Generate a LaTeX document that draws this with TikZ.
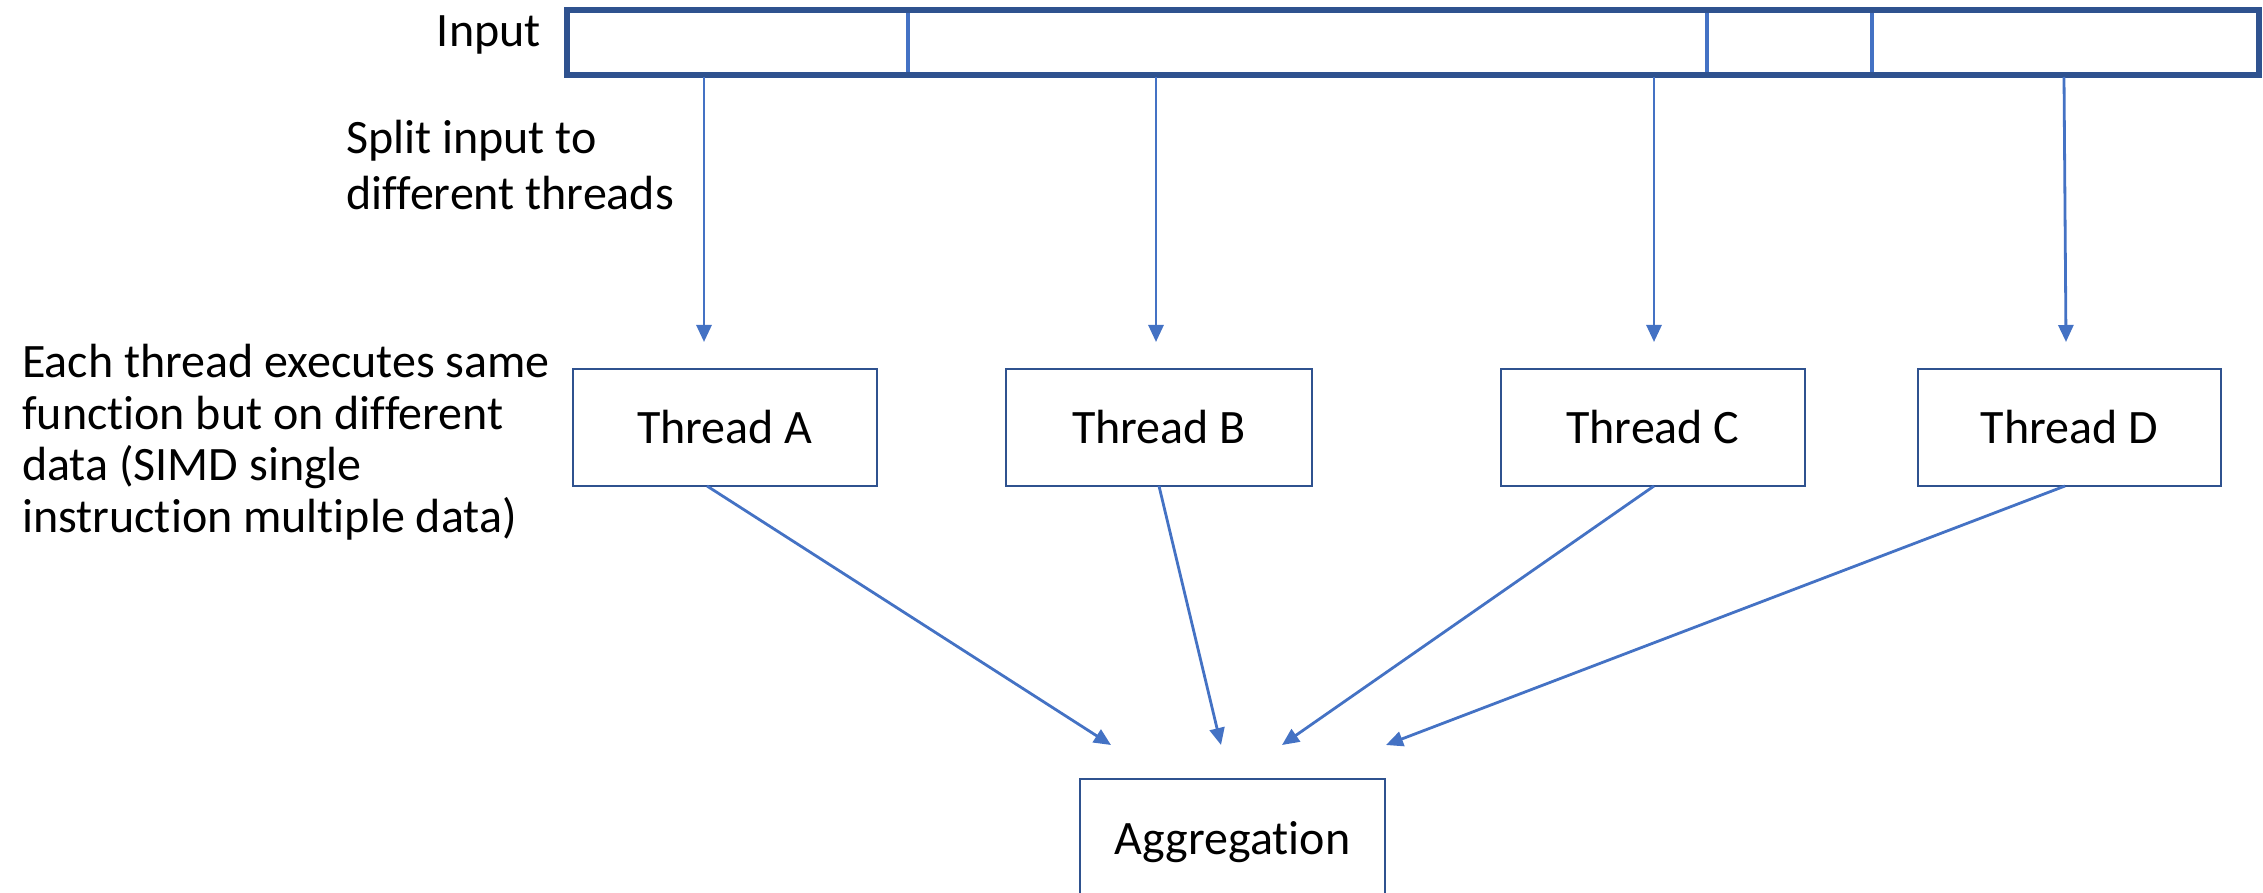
\documentclass[tikz,border=0pt]{standalone}
\usepackage{fontspec}
\setmainfont{Carlito}[Ligatures=NoCommon]
\usetikzlibrary{arrows.meta}
\definecolor{boxline}{HTML}{2F528F}
\definecolor{arrowblue}{HTML}{4472C4}
\tikzset{
  thread/.style={draw=boxline, line width=2.5pt, minimum width=304pt, minimum height=117pt,
    inner sep=0pt, font=\fontsize{48}{52}\selectfont},
  flow/.style={draw=arrowblue, line width=2.8pt, -{Triangle[length=17pt,width=15pt]}},
  note/.style={inner sep=0pt, align=left, font=\fontsize{48}{53}\selectfont},
}
\begin{document}
\begin{tikzpicture}[x=1pt, y=-1pt]
\useasboundingbox (0,0) rectangle (2263,893);
\clip (0,0) rectangle (2263,893);

% input buffer split into four segments
\draw[arrowblue, line width=4pt] (908,10) -- (908,75) (1707,10) -- (1707,75) (1872,10) -- (1872,75);
\draw[boxline, line width=5.5pt] (567,10) rectangle (2259,75);
\node[note, anchor=east] (inlabel) at (541,35) {Input};

% labels on the left
\node[note, anchor=north west, font=\fontsize{48}{56}\selectfont] (split) at (346,120) {Split input to\\different threads};
\node[note, anchor=north west, font=\fontsize{48}{51.5}\selectfont] (each) at (22,344) {Each thread executes same\\function but on different\\data (SIMD single\\instruction multiple data)};

% worker threads
\node[thread] (tA) at (725,427.5) {Thread A};
\node[thread, minimum width=306pt] (tB) at (1159,427.5) {Thread B};
\node[thread] (tC) at (1653,427.5) {Thread C};
\node[thread, minimum width=303pt] (tD) at (2069.5,427.5) {Thread D};

% aggregation box (runs off the bottom edge)
\node[thread, minimum width=305pt, minimum height=118pt, text depth=0pt] (agg) at (1232.5,838) {Aggregation};

% split points on the input buffer and arrow ends
\coordinate (sA) at (704,77);
\coordinate (sB) at (1156,77);
\coordinate (sC) at (1654,77);
\coordinate (sD) at (2064,77);
\coordinate (eA) at (704,342);
\coordinate (eB) at (1156,342);
\coordinate (eC) at (1654,342);
\coordinate (eD) at (2066,342);
\draw[flow] (sA) -- (eA);
\draw[flow] (sB) -- (eB);
\draw[flow] (sC) -- (eC);
\draw[flow] (sD) -- (eD);

% results flowing into the aggregation step
\coordinate (oA) at (707,486);
\coordinate (oB) at (1159,486);
\coordinate (oC) at (1654,486);
\coordinate (oD) at (2065,486);
\coordinate (gA) at (1111,745);
\coordinate (gB) at (1221,745);
\coordinate (gC) at (1282,745);
\coordinate (gD) at (1386,745);
\draw[flow] (oA) -- (gA);
\draw[flow] (oB) -- (gB);
\draw[flow] (oC) -- (gC);
\draw[flow] (oD) -- (gD);
\end{tikzpicture}
\end{document}
